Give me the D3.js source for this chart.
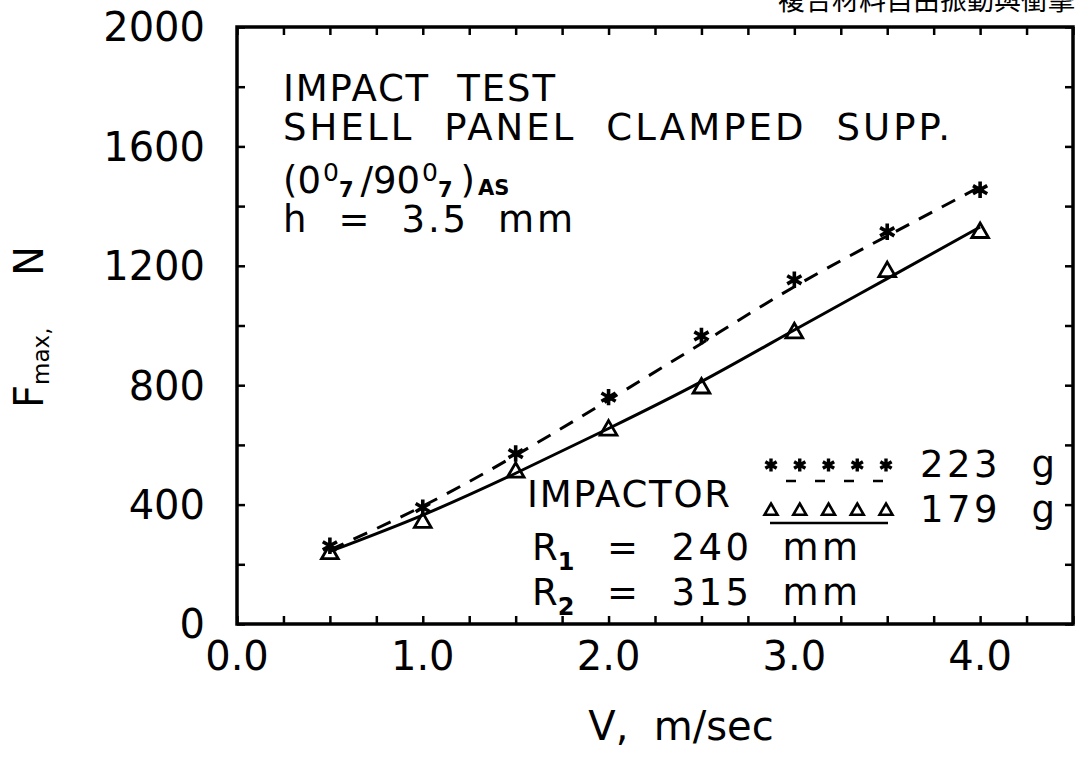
<!DOCTYPE html>
<html>
<head>
<meta charset="utf-8">
<script src="https://cdn.jsdelivr.net/npm/d3@7"></script>
<style>
  body { margin: 0; background: #fff; }
  text { font-family: "DejaVu Sans", sans-serif; fill: #000; white-space: pre; }
</style>
</head>
<body>
<svg id="chart"></svg>
<script>
// impact test data
var speeds = [0.5, 1.0, 1.5, 2.0, 2.5, 3.0, 3.5, 4.0];
var force223 = [262, 390, 571, 760, 965, 1153, 1314, 1455];
var force179 = [235, 340, 508, 649, 790, 975, 1180, 1311];
// fitted curves drawn through the points
var fit223 = [248, 395, 565, 750, 940, 1130, 1300, 1465];
var fit179 = [243, 365, 505, 655, 812, 985, 1157, 1330];

var xTickLabels = ["0.0", "1.0", "2.0", "3.0", "4.0"];
var yTickLabels = [0, 400, 800, 1200, 1600, 2000];
var legendLabels = ["223  g", "179  g"];

var width = 1078, height = 765;
var pLeft = 237, pRight = 1073, pTop = 27, pBottom = 624;

var svg = d3.select("#chart")
    .attr("width", width)
    .attr("height", height);

var x = d3.scaleLinear().domain([0, 4.5]).range([pLeft, pRight]);
var y = d3.scaleLinear().domain([0, 2000]).range([pBottom, pTop]);

// header text, cut at the top of the page
svg.append("text")
    .attr("x", 778).attr("y", 10)
    .style("font-family", "'Noto Sans CJK TC'")
    .style("font-size", "27px")
    .text("複合材料自由振動與衝擊");

// inward ticks on all four sides
var xt = d3.range(0, 4.51, 0.25);
var yt = d3.range(0, 2001, 200);
function tickStyle(g) {
    g.select(".domain").remove();
    g.selectAll("line").attr("stroke", "#000").attr("stroke-width", 2.5);
}
svg.append("g").attr("transform", "translate(0," + pBottom + ")")
    .call(d3.axisBottom(x).tickValues(xt).tickSize(-8).tickFormat(""))
    .call(tickStyle);
svg.append("g").attr("transform", "translate(0," + pTop + ")")
    .call(d3.axisTop(x).tickValues(xt).tickSize(-8).tickFormat(""))
    .call(tickStyle);
svg.append("g").attr("transform", "translate(" + pLeft + ",0)")
    .call(d3.axisLeft(y).tickValues(yt).tickSize(-8).tickFormat(""))
    .call(tickStyle);
svg.append("g").attr("transform", "translate(" + pRight + ",0)")
    .call(d3.axisRight(y).tickValues(yt).tickSize(-8).tickFormat(""))
    .call(tickStyle);

svg.append("rect")
    .attr("x", pLeft).attr("y", pTop)
    .attr("width", pRight - pLeft).attr("height", pBottom - pTop)
    .attr("fill", "none").attr("stroke", "#000").attr("stroke-width", 3.5);

// tick labels
svg.selectAll(".xlab").data(xTickLabels).enter().append("text")
    .attr("class", "xlab")
    .attr("x", function(d) { return x(+d); })
    .attr("y", 670)
    .attr("text-anchor", "middle")
    .style("font-size", "40px")
    .text(function(d) { return d; });
svg.selectAll(".ylab").data(yTickLabels).enter().append("text")
    .attr("class", "ylab")
    .attr("x", 205)
    .attr("y", function(d) { return y(d); })
    .attr("dy", "0.36em")
    .attr("text-anchor", "end")
    .style("font-size", "40px")
    .text(function(d) { return d; });

// axis titles
svg.append("text")
    .attr("x", 681).attr("y", 740)
    .attr("text-anchor", "middle")
    .style("font-size", "40px")
    .text("V,  m/sec");
var yTitle = svg.append("text")
    .attr("transform", "translate(43,408) rotate(-90)")
    .style("font-size", "40px");
yTitle.append("tspan").text("F");
yTitle.append("tspan").attr("dy", 6).style("font-size", "23px").text("max,");
yTitle.append("tspan").attr("x", 132).attr("dy", -6).text("N");

// curves
var line = function(vals) {
    return d3.line()
        .x(function(d, i) { return x(speeds[i]); })
        .y(function(d) { return y(d); })
        .curve(d3.curveNatural)(vals);
};
svg.append("path").attr("d", line(fit223))
    .attr("fill", "none").attr("stroke", "#000").attr("stroke-width", 3)
    .attr("stroke-dasharray", "15,11");
svg.append("path").attr("d", line(fit179))
    .attr("fill", "none").attr("stroke", "#000").attr("stroke-width", 3);

var star = d3.symbol(d3.symbolAsterisk, 190);
var tri = d3.symbol(d3.symbolTriangle2, 200);

svg.selectAll(".star").data(force223).enter().append("path")
    .attr("class", "star")
    .attr("d", star)
    .attr("transform", function(d, i) { return "translate(" + x(speeds[i]) + "," + y(d) + ")"; })
    .attr("fill", "none").attr("stroke", "#000").attr("stroke-width", 3.6);
svg.selectAll(".tri").data(force179).enter().append("path")
    .attr("class", "tri")
    .attr("d", tri)
    .attr("transform", function(d, i) { return "translate(" + x(speeds[i]) + "," + y(d) + ")"; })
    .attr("fill", "none").attr("stroke", "#000").attr("stroke-width", 2.8);

// annotation block, top left
var note = svg.append("g").style("font-size", "37px");
note.append("text").attr("x", 283).attr("y", 101)
    .attr("textLength", 272).attr("lengthAdjust", "spacing")
    .text("IMPACT  TEST");
note.append("text").attr("x", 283).attr("y", 140)
    .attr("textLength", 667).attr("lengthAdjust", "spacing")
    .text("SHELL  PANEL  CLAMPED  SUPP.");
var lay = note.append("text").attr("x", 283).attr("y", 193);
lay.append("tspan").text("(0");
lay.append("tspan").attr("dx", 2).attr("dy", -12).style("font-size", "25px").text("0");
lay.append("tspan").attr("dy", 16).style("font-size", "21px").style("font-weight", "bold").text("7");
lay.append("tspan").attr("dx", 7).attr("dy", -4).text("/90");
lay.append("tspan").attr("dx", 2).attr("dy", -12).style("font-size", "25px").text("0");
lay.append("tspan").attr("dy", 16).style("font-size", "21px").style("font-weight", "bold").text("7");
lay.append("tspan").attr("dx", 8).attr("dy", -4).text(")");
lay.append("tspan").attr("dx", 3).attr("dy", 2).style("font-size", "21px").style("font-weight", "bold").text("AS");
note.append("text").attr("x", 283).attr("y", 232)
    .attr("textLength", 290).attr("lengthAdjust", "spacing")
    .text("h  =  3.5  mm");

// impactor legend, bottom right
var leg = svg.append("g").style("font-size", "37px");
leg.append("text").attr("x", 527).attr("y", 507)
    .attr("textLength", 203).attr("lengthAdjust", "spacing")
    .text("IMPACTOR");
var lx = d3.scaleLinear().domain([0, 4]).range([771, 886]);
var legRows = [
    { y: 465, sym: d3.symbol(d3.symbolAsterisk, 120), sw: 3.4, lineY: 481, dash: "10,19", textY: 477 },
    { y: 511, sym: d3.symbol(d3.symbolTriangle2, 120), sw: 2.6, lineY: 523, dash: null, textY: 522 }
];
legRows.forEach(function(r, k) {
    leg.selectAll(".ls" + k).data(d3.range(5)).enter().append("path")
        .attr("d", r.sym)
        .attr("transform", function(d) { return "translate(" + lx(d) + "," + r.y + ")"; })
        .attr("fill", "none").attr("stroke", "#000").attr("stroke-width", r.sw);
    var ln = leg.append("line")
        .attr("x1", k === 0 ? 786 : 770).attr("x2", 888)
        .attr("y1", r.lineY).attr("y2", r.lineY)
        .attr("stroke", "#000").attr("stroke-width", 2.5);
    if (r.dash) ln.attr("stroke-dasharray", r.dash);
    leg.append("text").attr("x", 920).attr("y", r.textY)
        .attr("textLength", 135).attr("lengthAdjust", "spacing")
        .text(legendLabels[k]);
});

var radii = [["1", "240"], ["2", "315"]];
radii.forEach(function(r, k) {
    var t = leg.append("text").attr("y", 560 + k * 45);
    t.append("tspan").attr("x", 532).text("R");
    t.append("tspan").attr("dy", 10).style("font-size", "24px").style("font-weight", "bold").text(r[0]);
    t.append("tspan").attr("x", 607).attr("dy", -10)
        .attr("textLength", 251).attr("lengthAdjust", "spacing")
        .text("=  " + r[1] + "  mm");
});
</script>
</body>
</html>
